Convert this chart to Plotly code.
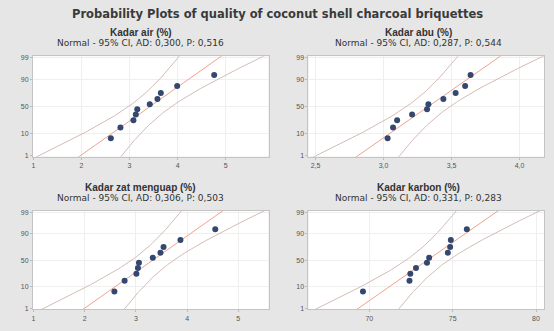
import plotly.graph_objects as go
from statistics import NormalDist, mean, stdev

# ---- data ----
titles = ["Kadar air (%)", "Kadar abu (%)", "Kadar zat menguap (%)", "Kadar karbon (%)"]
subtitles = ["Normal - 95% CI, AD: 0,300, P: 0,516",
             "Normal - 95% CI, AD: 0,287, P: 0,544",
             "Normal - 95% CI, AD: 0,306, P: 0,503",
             "Normal - 95% CI, AD: 0,331, P: 0,283"]
kadar_air = [2.61, 2.81, 3.08, 3.13, 3.16, 3.42, 3.58, 3.65, 3.99, 4.76]
kadar_abu = [3.03, 3.07, 3.10, 3.21, 3.32, 3.33, 3.44, 3.53, 3.60, 3.64]
kadar_zat = [2.58, 2.78, 3.01, 3.04, 3.06, 3.33, 3.48, 3.54, 3.87, 4.55]
kadar_karbon = [69.62, 72.41, 72.46, 72.80, 73.46, 73.59, 74.71, 74.85, 74.89, 75.85]
x_ticks_air = [1, 2, 3, 4, 5]
x_ticks_abu = [2.5, 3.0, 3.5, 4.0]
x_ticks_abu_text = ["2,5", "3,0", "3,5", "4,0"]
x_ticks_zat = [1, 2, 3, 4, 5]
x_ticks_karbon = [70, 75, 80]
x_ranges = [[0.99, 5.89], [2.448, 4.18], [0.99, 5.59], [66.35, 80.48]]
y_percent_ticks = [1, 10, 50, 90, 99]

W, H = 554, 331
nd = NormalDist()
T975_DF9 = 2.262

series = [kadar_air, kadar_abu, kadar_zat, kadar_karbon]
xticks = [(x_ticks_air, [str(v) for v in x_ticks_air]),
          (x_ticks_abu, x_ticks_abu_text),
          (x_ticks_zat, [str(v) for v in x_ticks_zat]),
          (x_ticks_karbon, [str(v) for v in x_ticks_karbon])]

# pixel boxes of plot areas: (left, right, top, bottom)
boxes = [(32, 268, 55, 157), (308, 544, 55, 157), (32, 268, 212, 312), (308, 544, 212, 312)]
title_y = [(31, 42), (31, 42), (188, 199), (188, 199)]
title_x = [140, 418, 140, 418]

fig = go.Figure()
layout = dict(width=W, height=H, margin=dict(l=0, r=0, t=0, b=0),
              paper_bgcolor="#e6e6e6", plot_bgcolor="white", showlegend=False,
              font=dict(family="Liberation Sans, Arial", color="#444"))
annotations = [dict(text="<b>Probability Plots of quality of coconut shell charcoal briquettes</b>",
                    x=277 / W, y=1 - 12 / H, xref="paper", yref="paper", showarrow=False,
                    font=dict(size=11.5, color="#3a3a3a", family="DejaVu Sans"),
                    xanchor="center", yanchor="middle")]

zgrid = [-2.6 + 0.05 * k for k in range(105)]
yt = [nd.inv_cdf(p / 100) for p in y_percent_ticks]

for i, vals in enumerate(series):
    n = len(vals)
    xs = sorted(vals)
    zr = [nd.inv_cdf((k + 1 - 0.3) / (n + 0.4)) for k in range(n)]
    mu, sd = mean(xs), stdev(xs)
    fit = [mu + z * sd for z in zgrid]
    half = [T975_DF9 * sd * ((1 + z * z / 2) / n) ** 0.5 for z in zgrid]
    lo = [f - h for f, h in zip(fit, half)]
    hi = [f + h for f, h in zip(fit, half)]
    ax = "" if i == 0 else str(i + 1)
    xa, ya = "x" + ax, "y" + ax
    for line, col in ((lo, "#d3bcb6"), (hi, "#d3bcb6"), (fit, "#eea48c")):
        fig.add_trace(go.Scatter(x=line, y=zgrid, mode="lines", xaxis=xa, yaxis=ya,
                                 line=dict(color=col, width=1), hoverinfo="skip"))
    fig.add_trace(go.Scatter(x=xs, y=zr, mode="markers", xaxis=xa, yaxis=ya,
                             marker=dict(color="#34476e", size=6)))
    l, r, t, b = boxes[i]
    common = dict(showline=True, mirror=True, linecolor="#c4c4c4", linewidth=1,
                  showgrid=True, gridcolor="#efefef", gridwidth=1, zeroline=False,
                  ticks="outside", ticklen=2, tickcolor="#bbbbbb",
                  tickfont=dict(size=7, color="#555"))
    layout["xaxis" + ax] = dict(domain=[l / W, r / W], range=x_ranges[i], anchor=ya,
                                tickvals=xticks[i][0], ticktext=xticks[i][1], **common)
    layout["yaxis" + ax] = dict(domain=[1 - b / H, 1 - t / H], range=[-2.36, 2.39], anchor=xa,
                                tickvals=yt, ticktext=[str(p) for p in y_percent_ticks], **common)
    annotations.append(dict(text="<b>" + titles[i] + "</b>", x=title_x[i] / W, y=1 - title_y[i][0] / H,
                            xref="paper", yref="paper", showarrow=False, xanchor="center",
                            yanchor="middle", font=dict(size=10, color="#333")))
    annotations.append(dict(text=subtitles[i], x=title_x[i] / W, y=1 - title_y[i][1] / H,
                            xref="paper", yref="paper", showarrow=False, xanchor="center",
                            yanchor="middle", font=dict(size=9, color="#333", family="DejaVu Sans")))

layout["annotations"] = annotations
fig.update_layout(**layout)
fig.write_html("out.html")
